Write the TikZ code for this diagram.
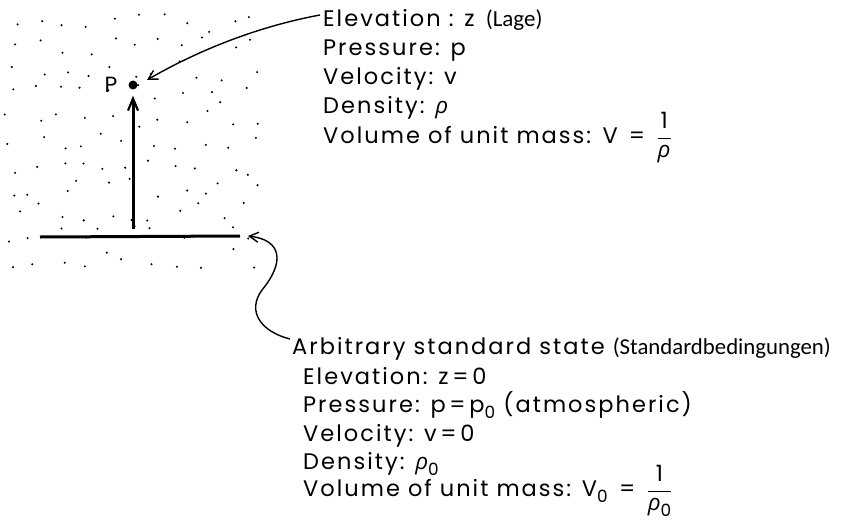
\documentclass[tikz,border=0pt]{standalone}
\usepackage{fontspec}
\usepackage{graphicx}
\setmainfont{Poppins}[LetterSpace=9]
\newfontfamily\notefont{Carlito}
\newfontfamily\grkfont{Open Sans}
\usetikzlibrary{arrows.meta}
\newcommand\lowsub[1]{\raisebox{-0.27em}{\scalebox{0.75}{#1}}}
\newcommand\rh{{\grkfont\itshape ρ}}
\begin{document}
\begin{tikzpicture}[x=1pt,y=-1pt,
  lbl/.style={anchor=base west,inner sep=0pt,font=\fontsize{22.5}{25}\selectfont},
  thickline/.style={line width=3pt},
  pointer/.style={line width=1.4pt,-{Straight Barb[length=9pt,width=10pt,line width=1.4pt]}},
  speck/.style={fill=black}]
\useasboundingbox (0,0) rectangle (844,525);
% stippled region
\pgfmathsetseed{11}
\foreach \c in {0,...,10}{
  \foreach \r in {0,...,10}{
    \pgfmathsetmacro\dx{11+\c*24+rand*10}
    \pgfmathsetmacro\dy{24+\r*23.5+rand*10}
    \fill[speck] (\dx,\dy) circle (1.15pt);
  }
}
% point P
\node[circle,fill=black,inner sep=0pt,minimum size=9pt] (Pdot) at (133,85) {};
\node[inner sep=0pt,font=\fontsize{22}{24}\selectfont] (Plbl) at (111,85) {P};
% standard state line and elevation arrow
\coordinate (baseL) at (40,237);
\coordinate (baseR) at (240,236);
\coordinate (baseM) at (133,229);
\draw[thickline] (baseL) -- (baseR);
\draw[thickline,-{Straight Barb[length=12pt,width=10pt,line width=2.2pt]}] (baseM) -- ([yshift=-6pt]Pdot.south);
% top text block
\node[lbl] (t1) at (323,26) {Elevation : z\enspace{\notefont\fontsize{23}{26}\selectfont (Lage)}};
\node[lbl] (t2) at (323,55) {Pressure: p};
\node[lbl] (t3) at (323,84) {Velocity: v};
\node[lbl] (t4) at (323,113) {Density: \rh};
\node[lbl] (t5) at (323,143) {Volume of unit mass:\enspace V\enspace=\enspace$\displaystyle\frac{\mbox{1}}{\mbox{\rh}}$};
% bottom text block
\node[lbl] (b0) at (292,354) {Arbitrary standard state\ {\notefont\fontsize{22.8}{25}\selectfont (Standardbedingungen)}};
\node[lbl] (b1) at (303,384) {Elevation: z\,=\,0};
\node[lbl] (b2) at (303,412) {Pressure: p\,=\,p\lowsub{0} (atmospheric)};
\node[lbl] (b3) at (303,441) {Velocity: v\,=\,0};
\node[lbl] (b4) at (303,469) {Density: \rh\lowsub{0}};
\node[lbl] (b5) at (303,496) {Volume of unit mass: V\lowsub{0}\enspace=\enspace$\displaystyle\frac{\mbox{1}}{\mbox{\rh\lowsub{0}}}$};
% pointers
\coordinate (startTop) at (320,15);
\draw[pointer] (startTop) .. controls (250,28) and (190,55) .. ([xshift=14pt,yshift=5pt]Pdot.center);
\coordinate (startBot) at (290,339);
\draw[pointer] (startBot) .. controls (262,332) and (246,312) .. (262,290)
  .. controls (285,262) and (282,240) .. ([xshift=8pt]baseR);
\end{tikzpicture}
\end{document}
